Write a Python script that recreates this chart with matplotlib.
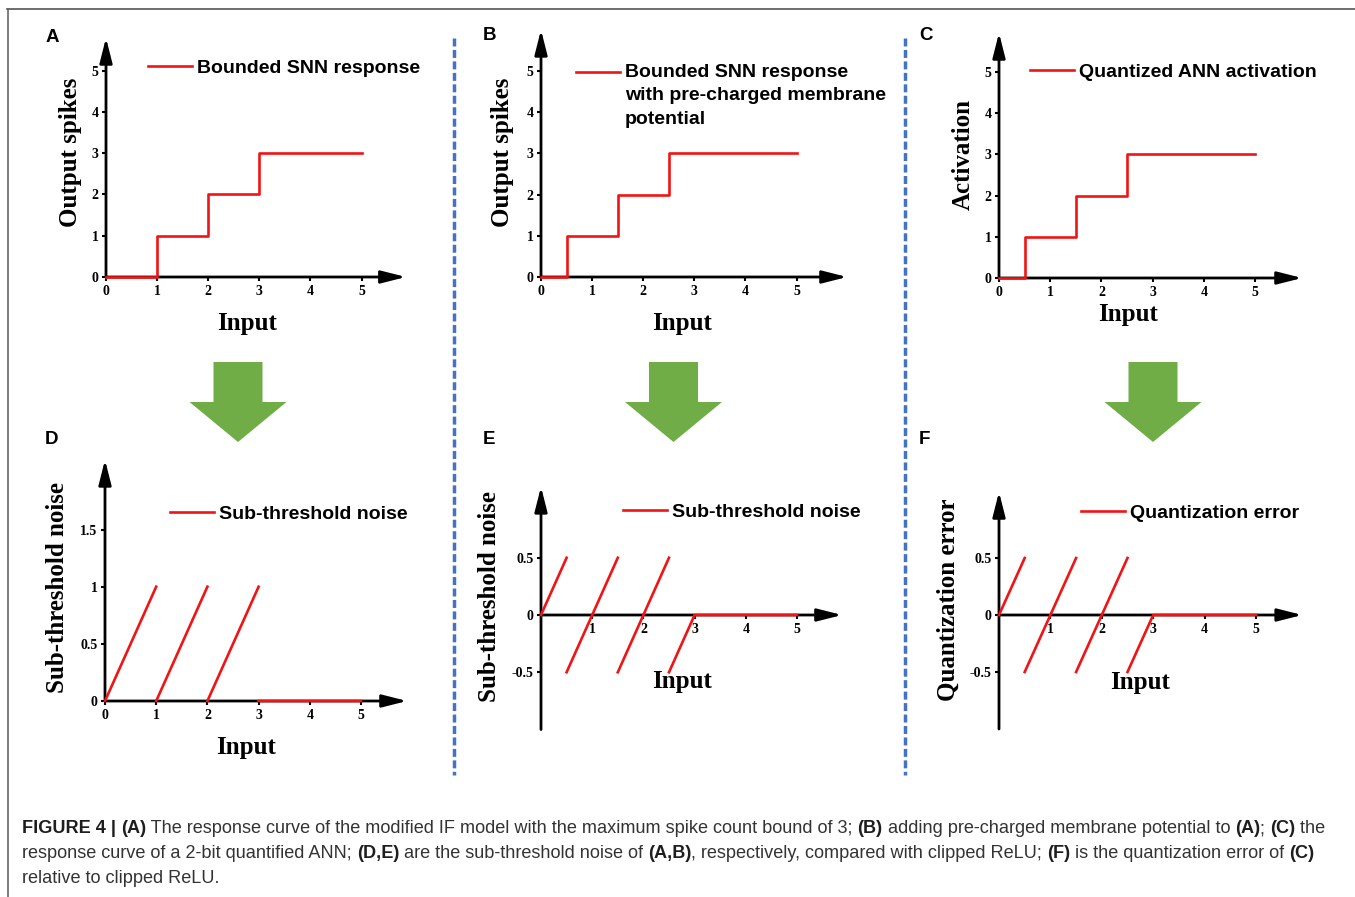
import numpy as np
import matplotlib
matplotlib.use("Agg")
import matplotlib.pyplot as plt
from matplotlib.lines import Line2D
from matplotlib.patches import Polygon
from matplotlib.font_manager import FontProperties

W, H, DPI = 1355, 897, 100

# ---------------- data ----------------
a_x = [0, 1, 2, 3, 5]
a_y = [0, 1, 2, 3, 3]
b_x = [0, 0.5, 1.5, 2.5, 5]
b_y = [0, 1, 2, 3, 3]
c_x = [0, 0.5, 1.5, 2.5, 5]
c_y = [0, 1, 2, 3, 3]
d_x = [0, 1, np.nan, 1, 2, np.nan, 2, 3, np.nan, 3, 5]
d_y = [0, 1, np.nan, 0, 1, np.nan, 0, 1, np.nan, 0, 0]
e_x = [0, 0.5, np.nan, 0.5, 1.5, np.nan, 1.5, 2.5, np.nan, 2.5, 3, 5]
e_y = [0, 0.5, np.nan, -0.5, 0.5, np.nan, -0.5, 0.5, np.nan, -0.5, 0, 0]
f_x = [0, 0.5, np.nan, 0.5, 1.5, np.nan, 1.5, 2.5, np.nan, 2.5, 3, 5]
f_y = [0, 0.5, np.nan, -0.5, 0.5, np.nan, -0.5, 0.5, np.nan, -0.5, 0, 0]

xticks_full = [0, 1, 2, 3, 4, 5]
xticks_noise = [1, 2, 3, 4, 5]
yticks_top = [0, 1, 2, 3, 4, 5]
yticks_d = [0, 0.5, 1, 1.5]
yticklabels_d = ["0", "0.5", "1", "1.5"]
yticks_ef = [-0.5, 0, 0.5]
yticklabels_ef = ["-0.5", "0", "0.5"]

legend_labels = ["Bounded SNN response",
                 "Bounded SNN response\nwith pre-charged membrane\npotential",
                 "Quantized ANN activation",
                 "Sub-threshold noise",
                 "Sub-threshold noise",
                 "Quantization error"]
y_labels = ["Output spikes", "Output spikes", "Activation",
            "Sub-threshold noise", "Sub-threshold noise", "Quantization error"]
x_label = "Input"
panel_letters = ["A", "B", "C", "D", "E", "F"]

caption_lines = [
    [("FIGURE 4 | ", "bold"), ("(A)", "bold"),
     (" The response curve of the modified IF model with the maximum spike count bound of 3; ", "normal"),
     ("(B)", "bold"), (" adding pre-charged membrane potential to ", "normal"), ("(A)", "bold"),
     ("; ", "normal"), ("(C)", "bold"), (" the", "normal")],
    [("response curve of a 2-bit quantified ANN; ", "normal"), ("(D,E)", "bold"),
     (" are the sub-threshold noise of ", "normal"), ("(A,B)", "bold"),
     (", respectively, compared with clipped ReLU; ", "normal"), ("(F)", "bold"),
     (" is the quantization error of ", "normal"), ("(C)", "bold")],
    [("relative to clipped ReLU.", "normal")],
]

# ---------------- style ----------------
RED = "#f21414"
GREEN = "#70ad47"
BLUE = "#4472c4"
SERIF = ["Liberation Serif", "DejaVu Serif"]
SANS = ["Liberation Sans", "DejaVu Sans"]

fig = plt.figure(figsize=(W / DPI, H / DPI), dpi=DPI)
fig.patch.set_facecolor("white")


def fx(x):
    return x / W


def fy(y):
    return 1 - y / H


def make_ax(origin, xunit, yunit, xlim, ylim, yaxis_start):
    ox, oy = origin
    lpx = ox + xlim[0] * xunit
    rpx = ox + xlim[1] * xunit
    tpx = oy - ylim[1] * yunit
    bpx = oy - ylim[0] * yunit
    ax = fig.add_axes([fx(lpx), fy(bpx), (rpx - lpx) / W, (bpx - tpx) / H])
    ax.set_xlim(xlim)
    ax.set_ylim(ylim)
    ax.patch.set_visible(False)
    for s in ["top", "right"]:
        ax.spines[s].set_visible(False)
    ax.spines["left"].set_position(("data", 0))
    ax.spines["bottom"].set_position(("data", 0))
    ax.spines["left"].set_visible(False)
    ax.spines["bottom"].set_visible(False)
    ap = dict(arrowstyle="-|>,head_length=1.5,head_width=0.38", color="k", lw=2.0,
              shrinkA=0, shrinkB=0, mutation_scale=10)
    ax.annotate("", xy=(xlim[1], 0), xytext=(0, 0), arrowprops=ap,
                annotation_clip=False, zorder=2)
    ax.annotate("", xy=(0, ylim[1]), xytext=(0, yaxis_start), arrowprops=ap,
                annotation_clip=False, zorder=2)
    ax.tick_params(axis="both", direction="out", length=3, width=1.5,
                   pad=2.5, labelsize=10, color="k")
    return ax


def style_ticks(ax):
    for lbl in ax.get_xticklabels() + ax.get_yticklabels():
        lbl.set_fontfamily(SERIF)
        lbl.set_fontweight("bold")


panels = [
    dict(o=(106, 277), xu=51.1, yu=41.3, xl=(-0.1, 5.87), yl=(-0.1, 5.79), ys=0,
         x=a_x, y=a_y, step=True, xt=xticks_full, yt=yticks_top, ytl=[str(v) for v in yticks_top],
         leg=(148, 68), ylab=(70, 152), xlab=(247, 323), letter=(52, 37)),
    dict(o=(541, 277), xu=51.1, yu=41.2, xl=(-0.1, 5.99), yl=(-0.1, 6.0), ys=0,
         x=b_x, y=b_y, step=True, xt=xticks_full, yt=yticks_top, ytl=[str(v) for v in yticks_top],
         leg=(576, 71), ylab=(503, 152), xlab=(682, 323), letter=(489, 36)),
    dict(o=(999, 278), xu=51.2, yu=41.2, xl=(-0.1, 5.92), yl=(-0.1, 5.95), ys=0,
         x=c_x, y=c_y, step=True, xt=xticks_full, yt=yticks_top, ytl=[str(v) for v in yticks_top],
         leg=(1030, 72), ylab=(963, 154), xlab=(1128, 315), letter=(926, 35)),
    dict(o=(105, 701), xu=51.2, yu=114.3, xl=(-0.1, 5.9), yl=(-0.04, 2.11), ys=0,
         x=d_x, y=d_y, step=False, xt=xticks_full, yt=yticks_d, ytl=yticklabels_d,
         leg=(170, 514), ylab=(58, 587), xlab=(246, 747), letter=(52, 439)),
    dict(o=(541, 615), xu=51.2, yu=114.5, xl=(-0.1, 5.88), yl=(-1.02, 1.12), ys=-1.0,
         x=e_x, y=e_y, step=False, xt=xticks_noise, yt=yticks_ef, ytl=yticklabels_ef,
         leg=(623, 512), ylab=(490, 597), xlab=(682, 681), letter=(489, 439)),
    dict(o=(999, 615), xu=51.4, yu=114.0, xl=(-0.1, 5.9), yl=(-1.02, 1.08), ys=-1.0,
         x=f_x, y=f_y, step=False, xt=xticks_noise, yt=yticks_ef, ytl=yticklabels_ef,
         leg=(1081, 513), ylab=(948, 600), xlab=(1140, 682), letter=(924, 439)),
]

leg_prop = FontProperties(family=SANS, weight="bold", size=14)

for i, p in enumerate(panels):
    ax = make_ax(p["o"], p["xu"], p["yu"], p["xl"], p["yl"], p["ys"])
    kw = dict(color=RED, lw=1.9, zorder=3, clip_on=False, label=legend_labels[i])
    if p["step"]:
        ax.plot(p["x"], p["y"], drawstyle="steps-post", **kw)
    else:
        ax.plot(p["x"], p["y"], **kw)
    ax.set_xticks(p["xt"], [str(v) for v in p["xt"]])
    ax.set_yticks(p["yt"], p["ytl"])
    style_ticks(ax)
    ax.set_ylabel(y_labels[i], fontfamily=SERIF, fontweight="bold", fontsize=18, va="center")
    ax.yaxis.set_label_coords(fx(p["ylab"][0]), fy(p["ylab"][1]), transform=fig.transFigure)
    ax.set_xlabel(x_label, fontfamily=SERIF, fontweight="bold", fontsize=18, va="center")
    ax.xaxis.set_label_coords(fx(p["xlab"][0]), fy(p["xlab"][1]), transform=fig.transFigure)
    multi = "\n" in legend_labels[i]
    leg = ax.legend(loc="upper left" if multi else "center left",
                    bbox_to_anchor=(fx(p["leg"][0]), fy(p["leg"][1] - (7 if multi else 0))),
                    bbox_transform=fig.transFigure, frameon=False, borderpad=0,
                    borderaxespad=0, handlelength=2.25, handletextpad=0.28,
                    handleheight=1.1 if multi else 0.7, prop=leg_prop)
    if multi:
        for t in leg.get_texts():
            t.set_linespacing(1.5)
        try:
            for col in leg._legend_handle_box.get_children():
                for hp in col.get_children():
                    hp.align = "top"
        except Exception:
            pass
    fig.text(fx(p["letter"][0]), fy(p["letter"][1]), panel_letters[i],
             family=SANS, weight="bold", size=13.5, ha="center", va="center")

# green arrows between rows
for cx in [238, 673.5, 1153]:
    verts = [(cx - 24.5, 362), (cx + 24.5, 362), (cx + 24.5, 402), (cx + 48.5, 402),
             (cx, 442), (cx - 48.5, 402), (cx - 24.5, 402)]
    fig.add_artist(Polygon([(fx(a), fy(b)) for a, b in verts], closed=True,
                           transform=fig.transFigure, facecolor=GREEN, edgecolor="none"))

# dashed separators
for sx in [453.5, 905]:
    fig.add_artist(Line2D([fx(sx), fx(sx)], [fy(38), fy(775)], transform=fig.transFigure,
                          color=BLUE, lw=2.5, linestyle=(0, (2.3, 1.0))))

# frame lines
fig.add_artist(Line2D([fx(7), fx(1355)], [fy(9), fy(9)], transform=fig.transFigure,
                      color="#555555", lw=1.2))
fig.add_artist(Line2D([fx(8), fx(8)], [fy(9), fy(897)], transform=fig.transFigure,
                      color="#666666", lw=1.2))

# caption
renderer = fig.canvas.get_renderer()


def text_w(s, weight, size):
    t1 = fig.text(0, 0, "X" + s + "X", family=SANS, weight=weight, size=size)
    t2 = fig.text(0, 0, "XX", family=SANS, weight=weight, size=size)
    w = t1.get_window_extent(renderer).width - t2.get_window_extent(renderer).width
    t1.remove()
    t2.remove()
    return w


w10 = sum(text_w(s, wt, 10) for s, wt in caption_lines[0])
cap_size = 10 * 1311 / w10
baselines = [833, 858, 883]
for line, yb in zip(caption_lines, baselines):
    x = 22
    for s, wt in line:
        fig.text(fx(x), fy(yb), s, family=SANS, weight=wt, size=cap_size,
                 color="#1e1e1e" if wt == "bold" else "#333333", va="baseline", ha="left")
        x += text_w(s, wt, cap_size)

fig.savefig("out.png", dpi=DPI, facecolor="white")
